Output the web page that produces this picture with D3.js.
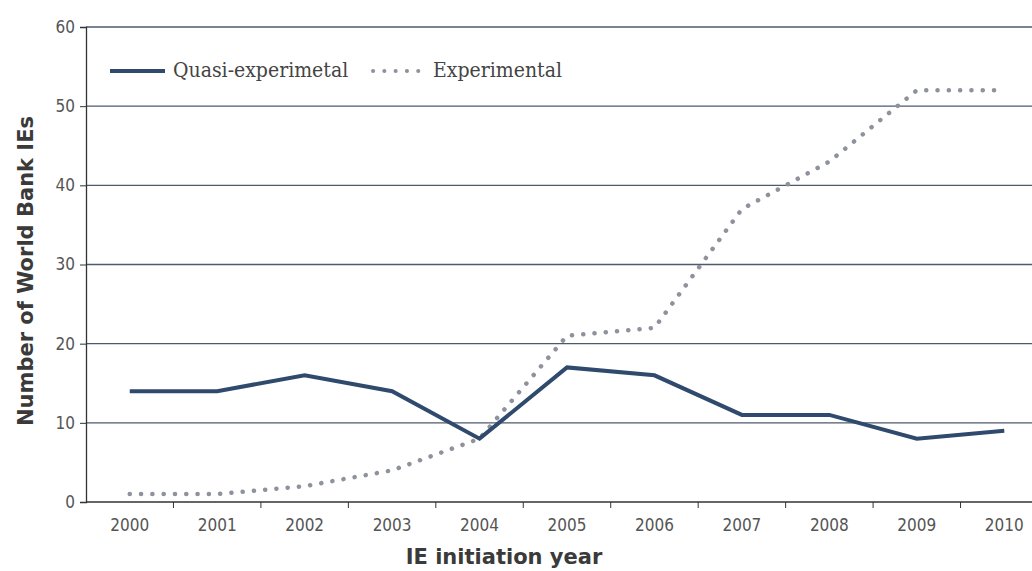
<!DOCTYPE html>
<html>
<head>
<meta charset="utf-8">
<script src="https://cdn.jsdelivr.net/npm/d3@7"></script>
<style>
  body { margin: 0; background: #fff; }
  svg { display: block; }
</style>
</head>
<body>
<svg id="chart"></svg>
<script>
const width = 1032;
const height = 571;

const years = ['2000', '2001', '2002', '2003', '2004', '2005', '2006', '2007', '2008', '2009', '2010'];
const quasi = [14, 14, 16, 14, 8, 17, 16, 11, 11, 8, 9];
const experimental = [1, 1, 2, 4, 8, 21, 22, 37, 43, 52, 52];
const yTicks = [0, 10, 20, 30, 40, 50, 60];

const svg = d3.select('#chart')
    .attr('width', width)
    .attr('height', height);

const x = d3.scaleBand()
    .domain(years)
    .range([86, 1048]);

const y = d3.scaleLinear()
    .domain([0, 60])
    .range([502, 27]);

// gridlines
svg.append('g')
    .selectAll('line')
    .data(yTicks.filter(d => d > 0))
    .join('line')
    .attr('x1', 86)
    .attr('x2', width)
    .attr('y1', d => y(d))
    .attr('y2', d => y(d))
    .attr('stroke', '#4d5a6c')
    .attr('stroke-width', 1.3);

// y axis
const yAxis = svg.append('g')
    .attr('transform', 'translate(86,0)')
    .call(d3.axisLeft(y).tickValues(yTicks).tickSize(6).tickPadding(5));
yAxis.select('.domain').attr('stroke', '#333').attr('stroke-width', 1.3);
yAxis.selectAll('.tick line').attr('stroke', '#333');
yAxis.selectAll('text')
    .attr('fill', '#555')
    .style('font-family', '"DejaVu Sans Condensed", "DejaVu Sans"')
    .style('font-size', '17px');

// x axis: ticks between categories
const xAxis = svg.append('g')
    .attr('transform', 'translate(0,502)');
xAxis.append('line')
    .attr('x1', 86).attr('x2', width)
    .attr('stroke', '#333').attr('stroke-width', 1.3);
xAxis.selectAll('.sep')
    .data(years.slice(1))
    .join('line')
    .attr('x1', d => x(d)).attr('x2', d => x(d))
    .attr('y1', 0).attr('y2', 6)
    .attr('stroke', '#333');
xAxis.selectAll('text')
    .data(years)
    .join('text')
    .attr('x', d => x(d) + x.bandwidth() / 2)
    .attr('y', 29)
    .attr('text-anchor', 'middle')
    .attr('fill', '#555')
    .style('font-family', '"DejaVu Sans Condensed", "DejaVu Sans"')
    .style('font-size', '17px')
    .text(d => d);

const line = d3.line()
    .x((d, i) => x(years[i]) + x.bandwidth() / 2)
    .y(d => y(d));

svg.append('path')
    .datum(experimental)
    .attr('d', line)
    .attr('fill', 'none')
    .attr('stroke', '#8e929c')
    .attr('stroke-width', 4.5)
    .attr('stroke-linecap', 'round')
    .attr('stroke-dasharray', '0.1 11.2');

svg.append('path')
    .datum(quasi)
    .attr('d', line)
    .attr('fill', 'none')
    .attr('stroke', '#2f4a6d')
    .attr('stroke-width', 4)
    .attr('stroke-linejoin', 'miter');

// legend
const legend = svg.append('g');
legend.append('line')
    .attr('x1', 110).attr('x2', 165).attr('y1', 71).attr('y2', 71)
    .attr('stroke', '#2f4a6d').attr('stroke-width', 4);
legend.append('text')
    .attr('x', 173).attr('y', 77)
    .attr('fill', '#444')
    .style('font-family', '"DejaVu Serif Condensed", "DejaVu Serif"')
    .style('font-size', '21px')
    .text('Quasi-experimetal');
legend.append('line')
    .attr('x1', 373).attr('x2', 421).attr('y1', 71).attr('y2', 71)
    .attr('stroke', '#8e929c').attr('stroke-width', 4)
    .attr('stroke-linecap', 'round')
    .attr('stroke-dasharray', '0.1 11.2');
legend.append('text')
    .attr('x', 433).attr('y', 77)
    .attr('fill', '#444')
    .style('font-family', '"DejaVu Serif Condensed", "DejaVu Serif"')
    .style('font-size', '21px')
    .text('Experimental');

// axis titles
svg.append('text')
    .attr('transform', 'translate(33,271) rotate(-90)')
    .attr('text-anchor', 'middle')
    .attr('fill', '#3a3a3a')
    .style('font-family', '"DejaVu Sans"')
    .style('font-weight', 'bold')
    .style('font-size', '21px')
    .text('Number of World Bank IEs');

svg.append('text')
    .attr('x', 504)
    .attr('y', 564)
    .attr('text-anchor', 'middle')
    .attr('fill', '#3a3a3a')
    .style('font-family', '"DejaVu Sans"')
    .style('font-weight', 'bold')
    .style('font-size', '21px')
    .text('IE initiation year');
</script>
</body>
</html>
